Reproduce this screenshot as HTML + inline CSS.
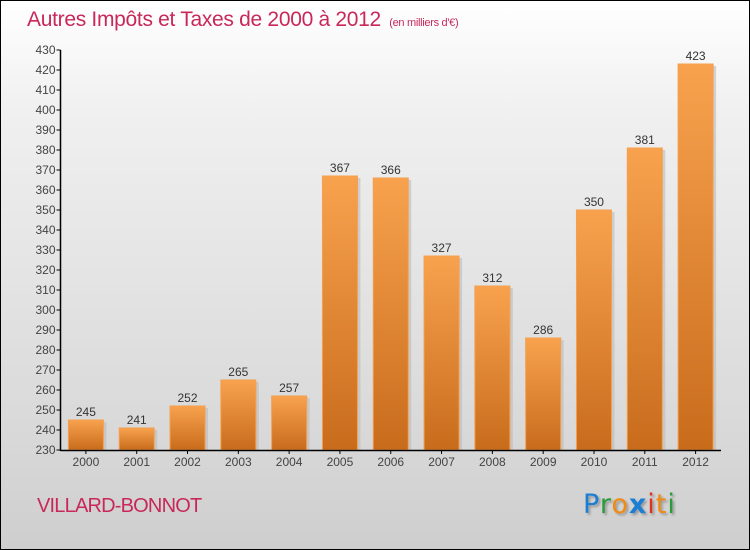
<!DOCTYPE html>
<html><head><meta charset="utf-8"><style>
body{margin:0;}
#wrap{position:relative;width:748px;height:548px;border:1px solid #000;background:linear-gradient(#ffffff,#f0f0f0 20%,#d8d8d8 80%,#cecece);overflow:hidden;font-family:"Liberation Sans",sans-serif;}
</style></head><body>
<div id="wrap">
<div style="position:absolute;left:26px;top:7px;font-size:21px;color:#c8285a;letter-spacing:-0.3px;">Autres Impôts et Taxes de 2000 à 2012 <span style="font-size:11px;">&nbsp;(en milliers d'€)</span></div>
<div style="position:absolute;left:36px;top:494px;font-size:20px;color:#c8285a;letter-spacing:-0.8px;">VILLARD-BONNOT</div>
<div style="position:absolute;left:582px;top:488px;font-size:27px;font-family:'DejaVu Sans',sans-serif;text-shadow:2px 2px 2px #999;letter-spacing:1px;"><span style="color:#1a7fd4">P</span><span style="color:#2a9a3a">r</span><span style="color:#f08a10">o</span><span style="color:#1a7fd4;font-weight:bold">x</span><span style="color:#e03020">i</span><span style="color:#f08a10">t</span><span style="color:#2a9a3a">i</span></div>
<svg id="chart" width="750" height="550" style="position:absolute;left:-1px;top:-1px;">
<defs><linearGradient id="g" x1="0" y1="0" x2="0" y2="1"><stop offset="0" stop-color="#f8a24e"/><stop offset="1" stop-color="#c86c1c"/></linearGradient></defs>
</svg>
</div>
<script>
const years=["2000","2001","2002","2003","2004","2005","2006","2007","2008","2009","2010","2011","2012"];
const values=[245,241,252,265,257,367,366,327,312,286,350,381,423];
const yTicks=[230,240,250,260,270,280,290,300,310,320,330,340,350,360,370,380,390,400,410,420,430];
const svg=document.getElementById('chart');
const NS='http://www.w3.org/2000/svg';
const x0=60.5,x1=721,yTop=50,yBot=450,vMin=230,vMax=430;
const y=v=>yBot-(v-vMin)/(vMax-vMin)*(yBot-yTop);
const band=(x1-x0)/years.length;
function mk(t,a){const e=document.createElementNS(NS,t);for(const k in a)e.setAttribute(k,a[k]);svg.appendChild(e);return e;}
yTicks.forEach(v=>{
 const l=mk('line',{x1:x0-4,x2:x0,y1:y(v),y2:y(v),stroke:'#000'});
 
 
 const t=mk('text',{x:x0-5,y:y(v)+4,'text-anchor':'end','font-size':12,fill:'#444','font-family':'Liberation Sans, sans-serif'});
 t.textContent=v;
 
 
});
years.forEach((yr,i)=>{
 const cx=x0+band*(i+0.5);
 const bw=35;
 const sh=mk('rect',{x:cx-bw/2+3,y:y(values[i])+2,width:bw,height:yBot-y(values[i])-2,fill:'#bbb',opacity:0.6});
 
 
 const r=mk('rect',{x:cx-bw/2,y:y(values[i]),width:bw,height:yBot-y(values[i]),fill:'url(#g)',stroke:'#f4a050','stroke-width':1});
 
 
 const vl=mk('text',{x:cx,y:y(values[i])-4,'text-anchor':'middle','font-size':12,fill:'#333','font-family':'Liberation Sans, sans-serif'});
 vl.textContent=values[i];
 
 
 const tk=mk('line',{x1:cx,x2:cx,y1:yBot,y2:yBot+4,stroke:'#000'});
 
 
 const xl=mk('text',{x:cx,y:yBot+16,'text-anchor':'middle','font-size':12,fill:'#444','font-family':'Liberation Sans, sans-serif'});
 xl.textContent=yr;
 
 
});
const ya=mk('line',{x1:x0,x2:x0,y1:yTop,y2:yBot+1,stroke:'#000','stroke-width':1.5});


const xa=mk('line',{x1:x0,x2:x1,y1:yBot+0.5,y2:yBot+0.5,stroke:'#000','stroke-width':1.5});


</script>
</body></html>
